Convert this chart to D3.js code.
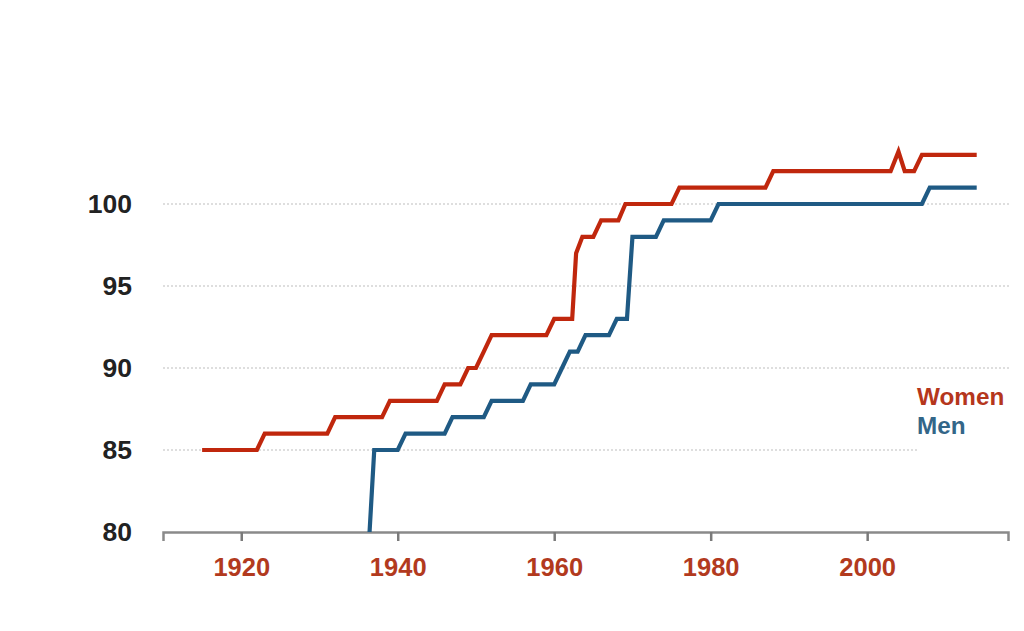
<!DOCTYPE html>
<html>
<head>
<meta charset="utf-8">
<script src="https://cdn.jsdelivr.net/npm/d3@7"></script>
<style>
  html, body { margin: 0; padding: 0; background: #fff; }
  svg { display: block; }
</style>
</head>
<body>
<svg id="chart" width="1024" height="631"></svg>
<script>
// ---- data ----
const womenYears = [1915, 1922, 1923, 1931, 1932, 1938, 1939, 1945, 1946, 1948, 1949, 1950, 1951, 1952, 1959, 1960, 1962.3, 1962.8, 1963.6, 1965, 1966, 1968.2, 1969.1, 1975, 1976, 1987, 1988, 2003, 2004, 2004.8, 2006, 2007, 2014];
const womenAges  = [85, 85, 86, 86, 87, 87, 88, 88, 89, 89, 90, 90, 91, 92, 92, 93, 93, 97, 98, 98, 99, 99, 100, 100, 101, 101, 102, 102, 103.2, 102, 102, 103, 103];
const menYears = [1936.4, 1937, 1940, 1941, 1946, 1947, 1951, 1952, 1956, 1957, 1960, 1961, 1962, 1963, 1964, 1967, 1968, 1969.3, 1970, 1973, 1974, 1980, 1981, 2007, 2008, 2014];
const menAges  = [80, 85, 85, 86, 86, 87, 87, 88, 88, 89, 89, 90, 91, 91, 92, 92, 93, 93, 98, 98, 99, 99, 100, 100, 101, 101];
const xTicks = [1920, 1940, 1960, 1980, 2000];
const yTicks = [80, 85, 90, 95, 100];
const seriesNames = ["Women", "Men"];

// ---- scales ----
const svg = d3.select("#chart");
const x = d3.scaleLinear().domain([1910, 2018]).range([163, 1008]);
const y = d3.scaleLinear().domain([80, 100]).range([532, 204]);

const red = "#c0270d", blue = "#1f5a84";
const font = "Liberation Sans, Arial, sans-serif";

// grid
const gridTicks = yTicks.filter(v => v > 80);
svg.append("g").selectAll("line").data(gridTicks).join("line")
  .attr("x1", 163)
  .attr("x2", d => d === 85 ? 918 : 1010)
  .attr("y1", d => y(d)).attr("y2", d => y(d))
  .attr("stroke", "#d4d4d4").attr("stroke-width", 1.5)
  .attr("stroke-dasharray", "2,2");

// x axis
const xAxis = svg.append("g").attr("transform", `translate(0,${y(80)})`)
  .call(d3.axisBottom(x).tickValues(xTicks).tickFormat(d3.format("d")).tickSize(9).tickPadding(17));
xAxis.select(".domain").attr("stroke", "#8a8a8a").attr("stroke-width", 2.5);
xAxis.selectAll(".tick line").attr("stroke", "#7a7a7a").attr("stroke-width", 2.5);
xAxis.selectAll(".tick text")
  .attr("fill", "#b23a1e").attr("font-family", font)
  .attr("font-weight", "bold").attr("font-size", 25.5);

// y labels
const yAxis = svg.append("g").attr("transform", "translate(132,0)")
  .call(d3.axisLeft(y).tickValues(yTicks).tickSize(0).tickPadding(0));
yAxis.select(".domain").remove();
yAxis.selectAll(".tick text")
  .attr("fill", "#222").attr("font-family", font)
  .attr("font-weight", "bold").attr("font-size", 26.5);

// lines
const line = d3.line().x(d => x(d[0])).y(d => y(d[1]));
const women = womenYears.map((yr, i) => [yr, womenAges[i]]);
const men = menYears.map((yr, i) => [yr, menAges[i]]);

svg.append("path").datum(men).attr("d", line)
  .attr("fill", "none").attr("stroke", blue).attr("stroke-width", 4.2);
svg.append("path").datum(women).attr("d", line)
  .attr("fill", "none").attr("stroke", red).attr("stroke-width", 4.2);

// legend
const legendColors = ["#b5361c", "#336688"];
svg.append("g").selectAll("text").data(seriesNames).join("text")
  .attr("x", 917).attr("y", (d, i) => 405 + i * 29)
  .attr("fill", (d, i) => legendColors[i])
  .attr("font-family", font)
  .attr("font-weight", "bold").attr("font-size", 24.3)
  .text(d => d);
</script>
</body>
</html>
